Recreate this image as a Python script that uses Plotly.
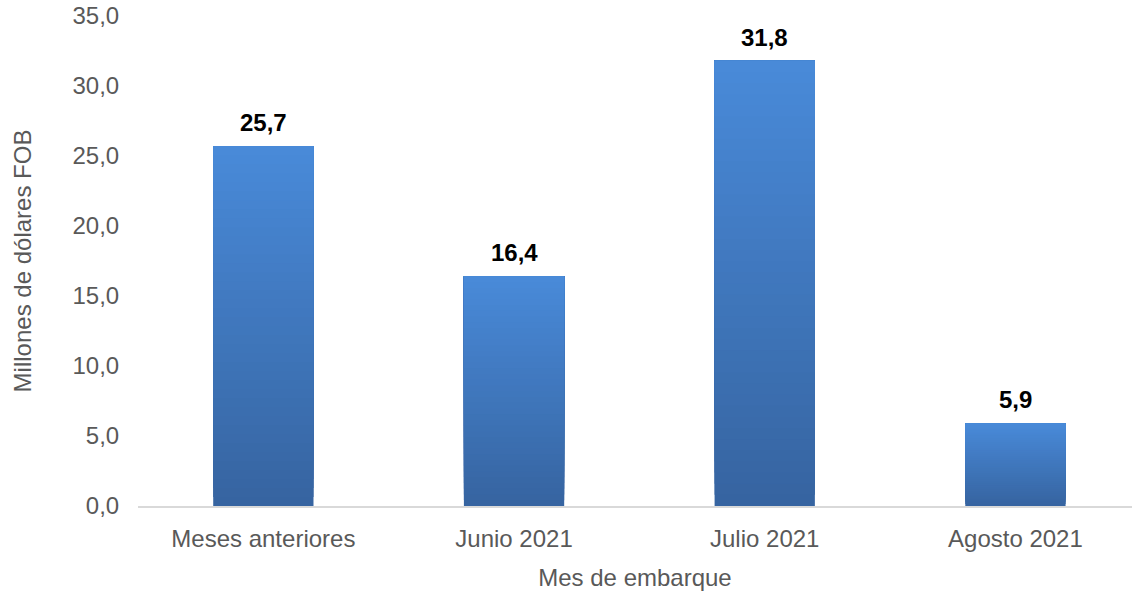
import plotly.graph_objects as go

categories = ["Meses anteriores", "Junio 2021", "Julio 2021", "Agosto 2021"]
values = [25.7, 16.4, 31.8, 5.9]
value_labels = ["25,7", "16,4", "31,8", "5,9"]
y_ticks = [0, 5, 10, 15, 20, 25, 30, 35]
y_tick_labels = ["0,0", "5,0", "10,0", "15,0", "20,0", "25,0", "30,0", "35,0"]

top_rgb = (73, 138, 217)
bottom_rgb = (54, 100, 160)
N = 40
FONT = "Liberation Sans, Arial"
FS = 24

fig = go.Figure()
for k in range(N):
    t = (k + 0.5) / N  # 0 bottom -> 1 top
    c = tuple(round(bottom_rgb[i] + (top_rgb[i] - bottom_rgb[i]) * t) for i in range(3))
    fig.add_trace(go.Bar(
        x=categories,
        y=[v * (N - k) / N for v in values],
        base=[v * k / N for v in values],
        width=0.4,
        marker=dict(color="rgb(%d,%d,%d)" % c, line=dict(width=0)),
        showlegend=False,
        hoverinfo="skip",
    ))

for cat, v, lab in zip(categories, values, value_labels):
    fig.add_annotation(x=cat, y=v, text="<b>%s</b>" % lab, showarrow=False,
                       yanchor="bottom", yshift=8,
                       font=dict(family=FONT, size=FS, color="#000000"))

fig.update_layout(
    width=1132, height=592,
    margin=dict(l=138, r=0, t=16, b=86),
    paper_bgcolor="white", plot_bgcolor="white",
    barmode="overlay",
    font=dict(family=FONT, size=FS, color="#595959"),
    xaxis=dict(
        range=[-0.5, 3.465],
        showgrid=False, zeroline=False,
        showline=True, linecolor="#d9d9d9", linewidth=2,
        ticks="outside", ticklen=10, tickcolor="rgba(0,0,0,0)",
        tickfont=dict(size=FS, color="#595959"),
        title=dict(text="Mes de embarque", font=dict(size=FS, color="#595959"), standoff=18),
        automargin=False,
    ),
    yaxis=dict(
        range=[0, 35],
        tickvals=y_ticks, ticktext=y_tick_labels,
        showgrid=False, zeroline=False, showline=False,
        ticks="outside", ticklen=13, tickcolor="rgba(0,0,0,0)",
        tickfont=dict(size=FS, color="#595959"),
        title=dict(text="Millones de dólares FOB", font=dict(size=FS, color="#595959"), standoff=34),
        automargin=False,
    ),
)

fig.write_html("out.html", config={"displayModeBar": False},
               post_script="document.body.style.margin='0';")
